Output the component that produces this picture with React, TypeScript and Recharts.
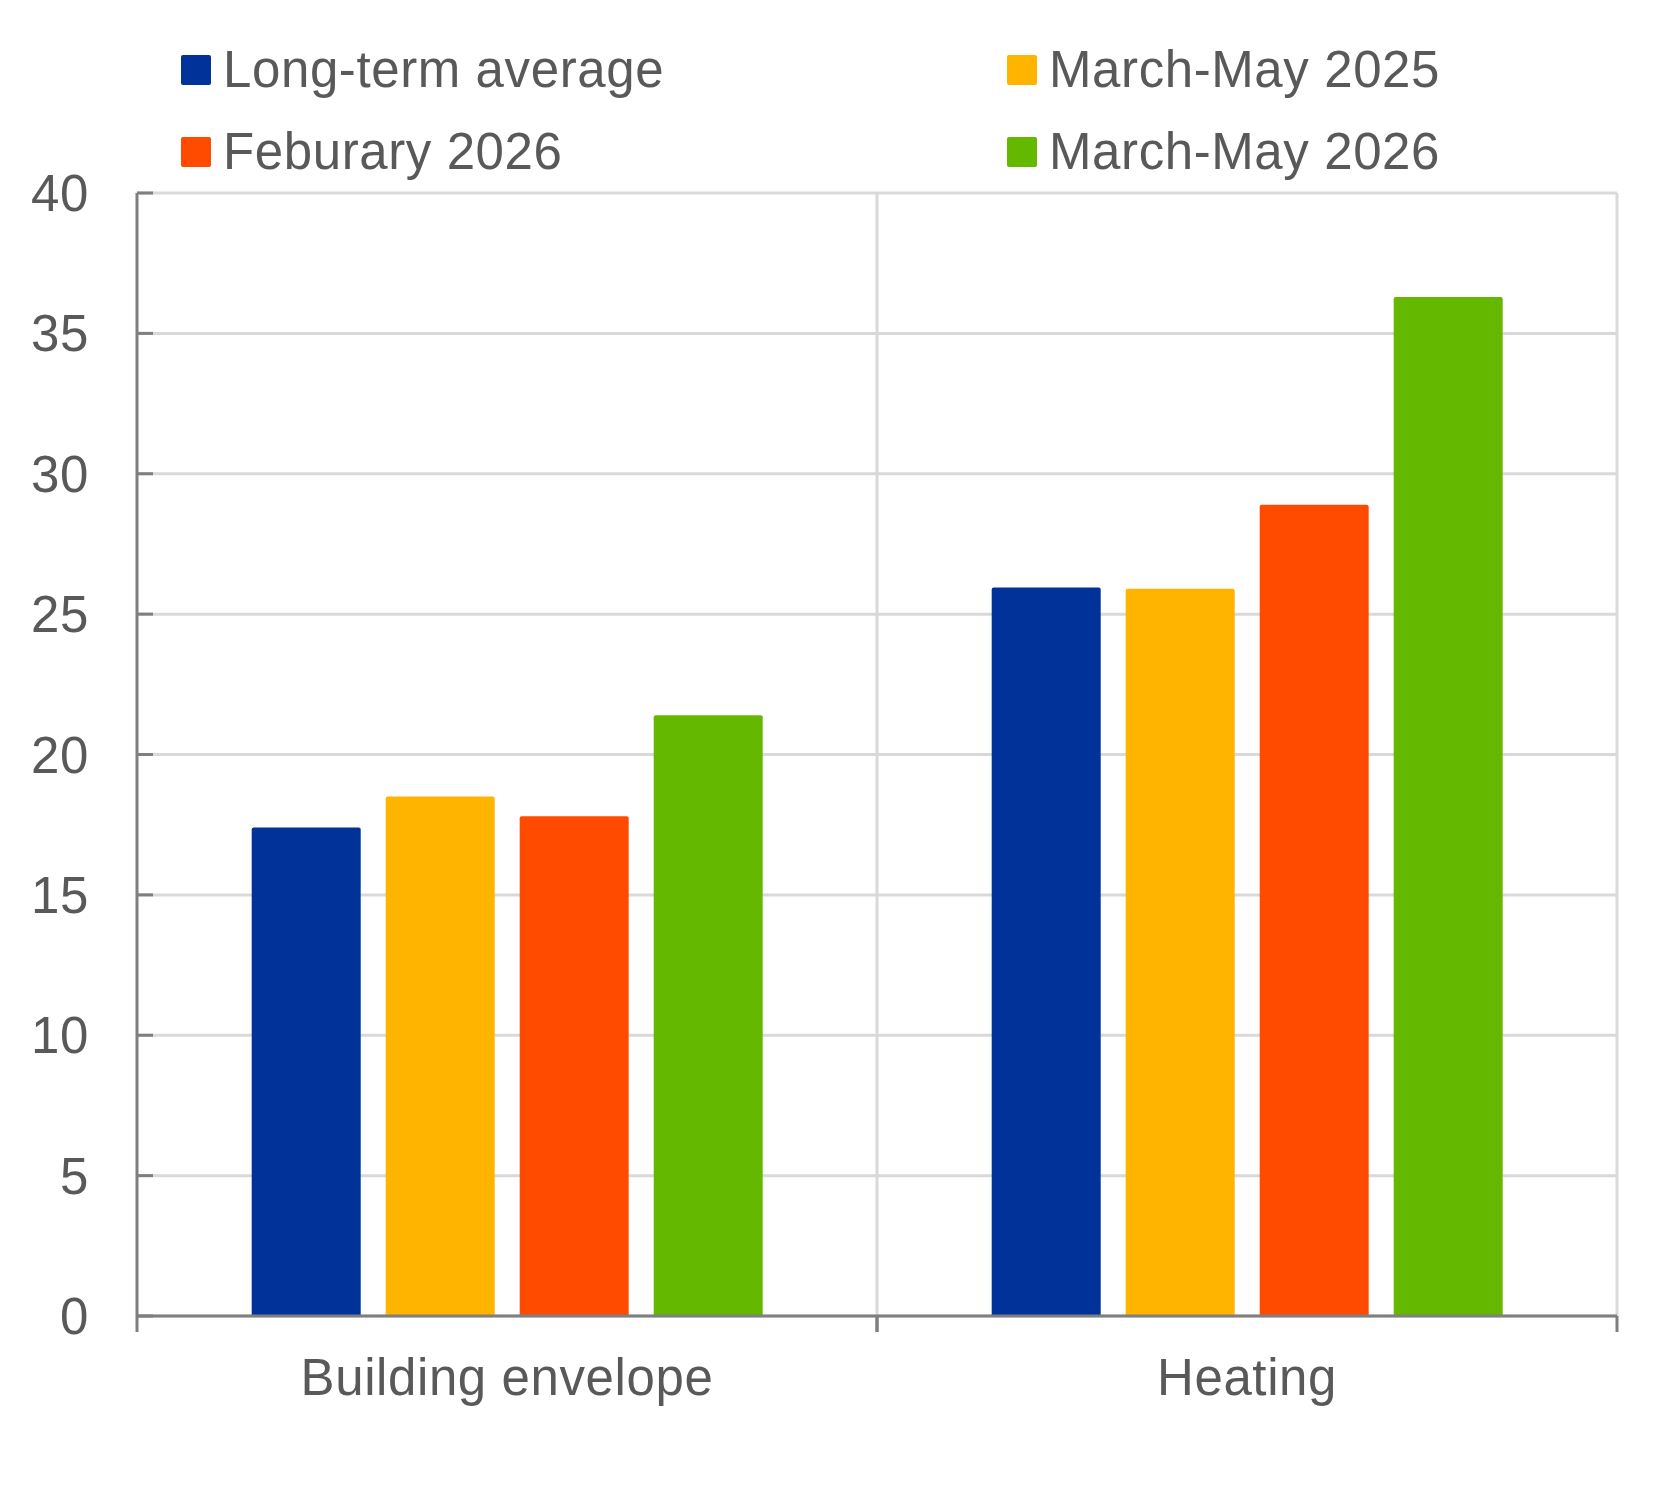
import { Bar, BarChart, CartesianGrid, XAxis, YAxis } from "recharts";

const categories = ["Building envelope", "Heating"];
const seriesNames = ["Long-term average", "March-May 2025", "Feburary 2026", "March-May 2026"];
const seriesColors = ["#003299", "#FFB400", "#FF4B00", "#65B800"];
const longTermAverage = [17.4, 25.95];
const marchMay2025 = [18.5, 25.9];
const feburary2026 = [17.8, 28.9];
const marchMay2026 = [21.4, 36.3];
const yTicks = [0, 5, 10, 15, 20, 25, 30, 35, 40];

const seriesValues = [longTermAverage, marchMay2025, feburary2026, marchMay2026];
const keys = ["s0", "s1", "s2", "s3"];

const data = categories.map((category, i) => {
  const row: Record<string, string | number> = { category };
  seriesValues.forEach((vals, s) => {
    row[keys[s]] = vals[i];
  });
  return row;
});

const FONT = "'Liberation Sans', Arial, sans-serif";
const TEXT = "#595959";
const AXIS = "#7f7f7f";
const GRID = "#d9d9d9";
const FONT_SIZE = 51;
const SPACING = 0.6;

function XTick(props: any) {
  const { x, y, payload, width, visibleTicksCount } = props;
  const half = payload.offset || width / visibleTicksCount / 2;
  const axisY = y - 43;
  return (
    <g>
      <line x1={x - half} x2={x - half} y1={axisY} y2={axisY + 16} stroke={AXIS} strokeWidth={3} />
      <line x1={x + half} x2={x + half} y1={axisY} y2={axisY + 16} stroke={AXIS} strokeWidth={3} />
      <text
        x={x}
        y={y}
        dy="0.71em"
        textAnchor="middle"
        fill={TEXT}
        fontSize={FONT_SIZE}
        fontFamily={FONT}
        letterSpacing={SPACING}
      >
        {payload.value}
      </text>
    </g>
  );
}

function YTick(props: any) {
  const { x, y, payload } = props;
  const axisX = x + 48;
  return (
    <g>
      <line x1={axisX} x2={axisX + 16} y1={y} y2={y} stroke={AXIS} strokeWidth={3} />
      <text
        x={x}
        y={y}
        dy="0.355em"
        textAnchor="end"
        fill={TEXT}
        fontSize={FONT_SIZE}
        fontFamily={FONT}
        letterSpacing={SPACING}
      >
        {payload.value}
      </text>
    </g>
  );
}

function ChartLegend() {
  return (
    <svg width={1654} height={190} style={{ position: "absolute", left: 0, top: 0 }}>
      {seriesNames.map((name, i) => {
        const col = i % 2;
        const row = Math.floor(i / 2);
        const left = col === 0 ? 181 : 1007;
        const top = 55 + row * 82;
        return (
          <g key={name}>
            <rect x={left} y={top} width={30} height={30} rx={2} fill={seriesColors[i]} />
            <text
              x={left + 42}
              y={top + 32}
              fill={TEXT}
              fontSize={FONT_SIZE}
              fontFamily={FONT}
              letterSpacing={SPACING}
            >
              {name}
            </text>
          </g>
        );
      })}
    </svg>
  );
}

export default function App() {
  return (
    <div style={{ position: "absolute", left: 0, top: 0, width: 1654, height: 1488, background: "#fff" }}>
      <BarChart
        width={1654}
        height={1488}
        data={data}
        margin={{ top: 193, right: 37, bottom: 72, left: 0 }}
        barCategoryGap="15.5%"
        barGap={25}
      >
        <CartesianGrid
          stroke={GRID}
          strokeWidth={3}
          verticalCoordinatesGenerator={({ offset }: any) =>
            categories.map((_, i) => offset.left + (offset.width * (i + 1)) / categories.length)
          }
        />
        <XAxis
          dataKey="category"
          height={100}
          tickSize={0}
          tickMargin={43}
          tickLine={false}
          axisLine={{ stroke: AXIS, strokeWidth: 3 }}
          tick={<XTick />}
          interval={0}
        />
        <YAxis
          width={137}
          domain={[0, 40]}
          ticks={yTicks}
          tickSize={0}
          tickMargin={48}
          tickLine={false}
          axisLine={{ stroke: AXIS, strokeWidth: 3 }}
          tick={<YTick />}
          interval={0}
        />
        {keys.map((k, i) => (
          <Bar
            key={k}
            dataKey={k}
            name={seriesNames[i]}
            fill={seriesColors[i]}
            radius={[2, 2, 0, 0]}
            isAnimationActive={false}
          />
        ))}
      </BarChart>
      <ChartLegend />
    </div>
  );
}
